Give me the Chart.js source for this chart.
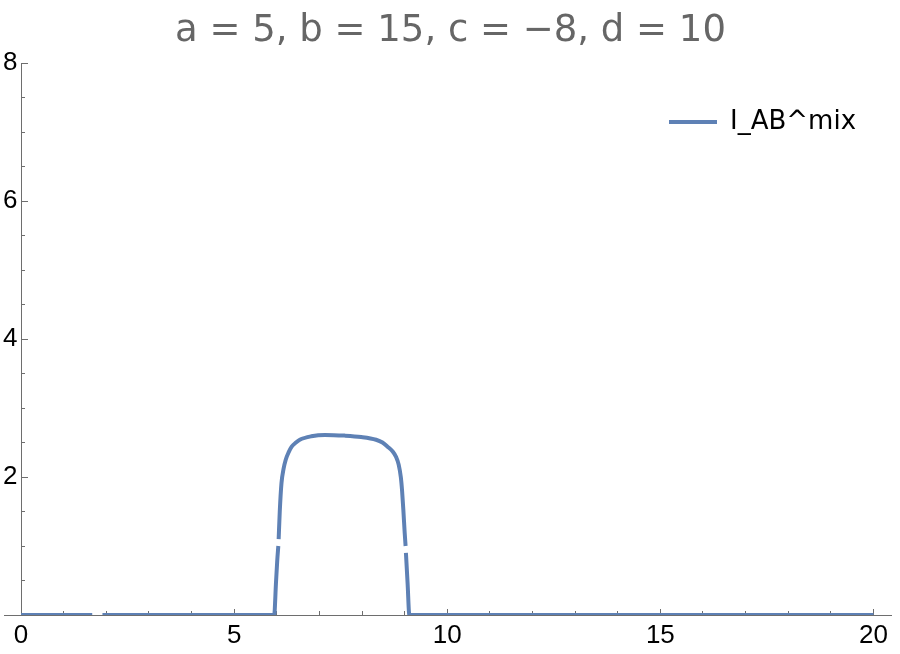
<!DOCTYPE html>
<html>
<head>
<meta charset="utf-8">
<script src="https://cdn.jsdelivr.net/npm/chart.js@4"></script>
<style>
  html, body { margin: 0; padding: 0; background: #fff; }
  #plot { display: block; }
</style>
</head>
<body>
<canvas id="plot" width="900" height="654"></canvas>
<script>
// values (null = gap in the drawn curve)
const xVals = [0, 1.67, 1.79, 1.91, 5.94, 5.98, 6.01, 6.036, 6.040, 6.044, 6.07, 6.11, 6.16, 6.21, 6.28,
    6.35, 6.45, 6.54, 6.81, 7.13, 7.59, 7.98, 8.33, 8.48, 8.60, 8.72, 8.80, 8.86, 8.91, 8.94, 8.97,
    9.00, 9.022, 9.026, 9.03, 9.07, 9.11, 12, 16, 20];
const yVals = [0, 0, null, 0, 0, 0.45, 0.78, 1.00, null, 1.10, 1.50, 1.91, 2.12, 2.25, 2.36,
    2.44, 2.50, 2.54, 2.59, 2.61, 2.60, 2.58, 2.54, 2.50, 2.44, 2.37, 2.29, 2.18, 2.00, 1.80, 1.52,
    1.20, 1.00, null, 0.90, 0.45, 0, 0, 0, 0];

const seriesName = "I_AB^mix";
const titleText = "a = 5, b = 15, c = \u22128, d = 10";
const xTickLabels = [0, 5, 10, 15, 20];
const yTickLabels = [2, 4, 6, 8];

const points = xVals.map((x, i) => ({ x: x, y: yVals[i] }));

const axisGray = "#6e6e6e";
const lineBlue = "#5e81b5";
const tickFont = { family: "Liberation Sans", size: 26 };

// the legend sits inside the plot, top right
const legendInside = {
    id: "legendInside",
    afterLayout(chart) {
        const lg = chart.legend;
        lg.left = 659;
        lg.top = 99;
        lg.right = lg.left + lg.width;
        lg.bottom = lg.top + lg.height;
    }
};

const ctx = document.getElementById("plot");

new Chart(ctx, {
    type: "line",
    data: {
        datasets: [{
            label: seriesName,
            data: points,
            borderColor: lineBlue,
            backgroundColor: lineBlue,
            borderWidth: 4,
            pointRadius: 0,
            cubicInterpolationMode: "monotone",
            spanGaps: false,
            fill: false
        }]
    },
    options: {
        responsive: false,
        animation: false,
        layout: { padding: { left: 4, right: 3, top: 0, bottom: 39 } },
        plugins: {
            title: {
                display: true,
                text: titleText,
                color: "#666666",
                font: { family: "DejaVu Sans", size: 37, weight: "normal" },
                padding: { top: 9, bottom: 9.6 }
            },
            legend: {
                position: "chartArea",
                align: "start",
                labels: {
                    usePointStyle: true,
                    pointStyle: "line",
                    pointStyleWidth: 48,
                    color: "#000",
                    font: { family: "DejaVu Sans", size: 26 }
                }
            },
            tooltip: { enabled: false }
        },
        scales: {
            x: {
                type: "linear",
                position: { y: 0 },
                min: -0.4,
                max: 20.42,
                border: { display: true, color: axisGray, width: 1 },
                grid: { drawOnChartArea: false, tickLength: -7, color: axisGray },
                ticks: {
                    stepSize: 5,
                    includeBounds: false,
                    padding: 12,
                    maxRotation: 0,
                    color: "#000",
                    font: tickFont,
                    callback: v => xTickLabels.includes(v) ? String(v) : ""
                }
            },
            xMinor: {
                type: "linear",
                axis: "x",
                position: { y: 0 },
                min: -0.4,
                max: 20.42,
                border: { display: false },
                grid: { drawOnChartArea: false, tickLength: -4, color: axisGray },
                ticks: { stepSize: 1, includeBounds: false, callback: () => "" }
            },
            y: {
                type: "linear",
                position: { x: 0 },
                min: 0,
                max: 8,
                border: { display: true, color: axisGray, width: 1 },
                grid: { drawOnChartArea: false, tickLength: -7, color: axisGray },
                ticks: { stepSize: 2, callback: () => "" }
            },
            yMinor: {
                type: "linear",
                axis: "y",
                position: { x: 0 },
                min: 0,
                max: 8,
                border: { display: false },
                grid: { drawOnChartArea: false, tickLength: -4, color: axisGray },
                ticks: { stepSize: 0.5, callback: () => "" }
            },
            // labels of the y axis, set just left of the axis line
            yText: {
                type: "linear",
                axis: "y",
                position: "left",
                min: 0,
                max: 8,
                border: { display: false },
                grid: { display: false, drawTicks: false },
                ticks: {
                    stepSize: 2,
                    mirror: true,
                    crossAlign: "far",
                    padding: -1,
                    color: "#000",
                    font: tickFont,
                    callback: v => yTickLabels.includes(v) ? String(v) : ""
                },
                afterFit(scale) { scale.width = 0; }
            }
        }
    },
    plugins: [legendInside]
});
</script>
</body>
</html>
